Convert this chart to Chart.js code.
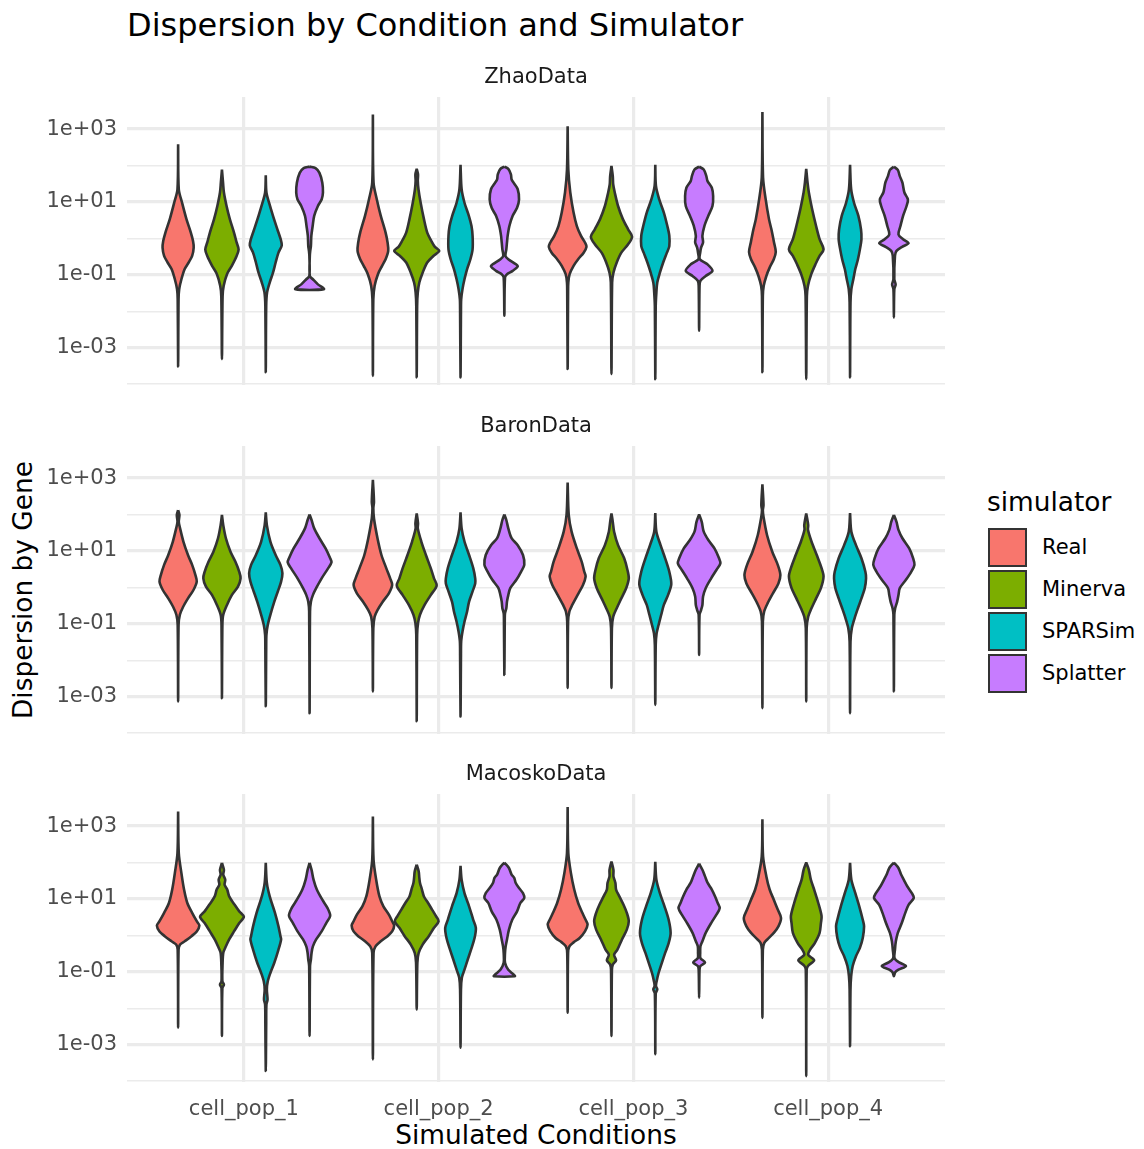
<!DOCTYPE html>
<html>
<head>
<meta charset="utf-8">
<script src="https://cdn.jsdelivr.net/npm/chart.js@4.4.1/dist/chart.umd.min.js"></script>
<style>
  html, body { margin:0; padding:0; background:#fff; }
  body { width:1144px; height:1149px; position:relative; overflow:hidden; font-family:"DejaVu Sans", sans-serif; }
  canvas { position:absolute; left:0; }
  .txt { position:absolute; white-space:nowrap; font-family:"DejaVu Sans", sans-serif; }
</style>
</head>
<body>
<div class="txt" id="title" style="left:127px; top:7px; font-size:32px; line-height:36px; color:#000;">Dispersion by Condition and Simulator</div>
<div class="txt" id="ytitle" style="left:23px; top:590px; font-size:26.4px; line-height:30px; color:#000; transform:translate(-50%,-50%) rotate(-90deg);">Dispersion by Gene</div>
<div class="txt" id="xtitle" style="left:536px; top:1135px; font-size:26.4px; line-height:30px; color:#000; transform:translate(-50%,-50%);">Simulated Conditions</div>
<div id="legend"></div>
<script>
// ---------------- data ----------------
const categories = ['cell_pop_1', 'cell_pop_2', 'cell_pop_3', 'cell_pop_4'];
const simulators = ['Real', 'Minerva', 'SPARSim', 'Splatter'];
const facets = ['ZhaoData', 'BaronData', 'MacoskoData'];
const yMajorExps = [-3, -1, 1, 3];
const yTickLabels = ['1e-03', '1e-01', '1e+01', '1e+03'];
const yMinorExps = [-4, -2, 0, 2];

// Each violin: [log10(dispersion), relative density width]; one profile per cell_pop
const zhaoReal = [
  [[2.58,0],[1.35,0.03],[0.98,0.18],[0.53,0.38],[0.16,0.58],[-0.07,0.68],[-0.25,0.71],[-0.48,0.64],[-0.66,0.48],[-0.84,0.30],[-1.12,0.15],[-1.39,0.05],[-1.67,0.02],[-3.51,0]],
  [[3.40,0],[1.53,0.03],[1.07,0.18],[0.62,0.36],[0.16,0.58],[-0.11,0.67],[-0.34,0.70],[-0.57,0.58],[-0.75,0.42],[-0.98,0.23],[-1.30,0.08],[-1.67,0.02],[-3.77,0]],
  [[3.08,0],[1.89,0.03],[1.26,0.12],[0.71,0.27],[0.34,0.42],[0.07,0.61],[-0.11,0.79],[-0.23,0.86],[-0.39,0.73],[-0.57,0.48],[-0.75,0.27],[-0.98,0.09],[-1.21,0.03],[-1.48,0.02],[-3.58,0]],
  [[3.47,0],[1.67,0.03],[1.07,0.15],[0.53,0.30],[0.25,0.41],[-0.11,0.53],[-0.37,0.61],[-0.57,0.52],[-0.80,0.33],[-1.03,0.18],[-1.30,0.06],[-1.58,0.02],[-3.67,0]]
];
const zhaoMinerva = [
  [[1.89,0],[1.53,0.05],[1.26,0.09],[0.89,0.21],[0.53,0.36],[0.16,0.55],[-0.11,0.67],[-0.30,0.76],[-0.48,0.67],[-0.75,0.45],[-0.98,0.23],[-1.30,0.08],[-1.58,0.03],[-3.31,0]],
  [[1.91,0],[1.76,0.06],[1.58,0.05],[1.35,0.08],[0.98,0.18],[0.53,0.33],[0.16,0.48],[-0.07,0.67],[-0.23,0.83],[-0.34,1.03],[-0.48,0.76],[-0.66,0.48],[-0.94,0.27],[-1.21,0.12],[-1.48,0.05],[-1.85,0.02],[-3.81,0]],
  [[1.99,0],[1.71,0.06],[1.48,0.08],[1.26,0.15],[0.89,0.30],[0.53,0.52],[0.25,0.76],[0.05,0.94],[-0.16,0.76],[-0.39,0.45],[-0.66,0.24],[-0.94,0.09],[-1.21,0.03],[-3.72,0]],
  [[1.91,0],[1.53,0.06],[1.26,0.12],[0.80,0.27],[0.34,0.45],[-0.02,0.61],[-0.30,0.79],[-0.48,0.61],[-0.71,0.42],[-0.98,0.23],[-1.30,0.08],[-1.58,0.03],[-3.86,0]]
];
const zhaoSPARSim = [
  [[1.73,0],[1.26,0.03],[0.98,0.15],[0.62,0.33],[0.25,0.53],[-0.02,0.68],[-0.19,0.73],[-0.39,0.58],[-0.66,0.45],[-0.94,0.33],[-1.21,0.18],[-1.48,0.06],[-1.85,0.02],[-3.67,0]],
  [[2.02,0],[1.35,0.05],[0.98,0.18],[0.62,0.38],[0.34,0.50],[0.07,0.55],[-0.30,0.55],[-0.57,0.45],[-0.84,0.30],[-1.12,0.18],[-1.39,0.09],[-1.67,0.03],[-2.03,0.02],[-3.81,0]],
  [[2.02,0],[1.44,0.03],[1.07,0.18],[0.71,0.39],[0.34,0.55],[0.07,0.64],[-0.21,0.64],[-0.39,0.53],[-0.66,0.36],[-0.94,0.21],[-1.21,0.09],[-1.48,0.05],[-1.85,0.02],[-3.86,0]],
  [[2.02,0],[1.35,0.05],[0.98,0.18],[0.62,0.38],[0.25,0.50],[-0.02,0.52],[-0.30,0.45],[-0.57,0.36],[-0.84,0.24],[-1.12,0.15],[-1.39,0.06],[-1.76,0.02],[-3.81,0]]
];
const zhaoSplatter = [
  [[1.97,0],[1.93,0.27],[1.80,0.45],[1.53,0.58],[1.26,0.61],[1.07,0.55],[0.89,0.38],[0.62,0.21],[0.34,0.14],[0.07,0.08],[-0.21,0.06],[-0.34,0.03],[-0.48,0.01],[-1.03,0.01],[-1.12,0.15],[-1.26,0.38],[-1.39,0.65]],
  [[1.97,0],[1.91,0.18],[1.76,0.30],[1.62,0.33],[1.53,0.42],[1.35,0.61],[1.07,0.67],[0.84,0.58],[0.62,0.38],[0.34,0.23],[0.07,0.15],[-0.11,0.12],[-0.30,0.09],[-0.48,0.05],[-0.57,0.18],[-0.71,0.53],[-0.77,0.61],[-0.89,0.38],[-0.98,0.12],[-1.07,0.03],[-2.12,0]],
  [[1.97,0],[1.89,0.21],[1.71,0.33],[1.58,0.38],[1.39,0.58],[1.16,0.64],[0.89,0.61],[0.62,0.42],[0.34,0.24],[0.07,0.15],[-0.11,0.18],[-0.25,0.09],[-0.39,0.05],[-0.57,0.03],[-0.71,0.38],[-0.89,0.61],[-1.03,0.30],[-1.16,0.06],[-1.30,0.02],[-2.53,0]],
  [[1.97,0],[1.88,0.18],[1.71,0.27],[1.53,0.39],[1.26,0.48],[1.07,0.64],[0.89,0.58],[0.62,0.42],[0.34,0.30],[0.11,0.21],[-0.02,0.42],[-0.13,0.67],[-0.23,0.38],[-0.34,0.12],[-0.48,0.05],[-1.12,0.02],[-1.26,0.08],[-1.39,0.02],[-2.17,0]]
];
const baronReal = [
  [[2.12,0],[1.99,0.06],[1.80,0.03],[1.62,0.09],[1.26,0.24],[0.89,0.45],[0.62,0.64],[0.34,0.79],[0.16,0.85],[-0.07,0.70],[-0.30,0.45],[-0.53,0.23],[-0.75,0.08],[-1.03,0.02],[-3.13,0]],
  [[2.95,0],[2.35,0.05],[2.17,0.02],[1.89,0.05],[1.35,0.21],[0.89,0.39],[0.53,0.61],[0.25,0.79],[0.07,0.88],[-0.16,0.73],[-0.39,0.45],[-0.62,0.21],[-0.80,0.08],[-1.12,0.02],[-2.85,0]],
  [[2.88,0],[1.99,0.05],[1.53,0.18],[1.07,0.42],[0.71,0.64],[0.43,0.76],[0.30,0.82],[0.07,0.70],[-0.21,0.45],[-0.48,0.21],[-0.66,0.08],[-0.94,0.02],[-2.76,0]],
  [[2.83,0],[2.26,0.05],[2.12,0.02],[1.94,0.05],[1.44,0.21],[0.98,0.45],[0.62,0.70],[0.34,0.82],[0.11,0.73],[-0.16,0.48],[-0.43,0.24],[-0.66,0.08],[-0.94,0.02],[-3.31,0]]
];
const baronMinerva = [
  [[1.99,0],[1.71,0.06],[1.35,0.18],[0.98,0.39],[0.71,0.61],[0.43,0.79],[0.25,0.85],[0.02,0.73],[-0.21,0.45],[-0.48,0.23],[-0.75,0.06],[-1.03,0.02],[-3.04,0]],
  [[2.03,0],[1.76,0.06],[1.62,0.05],[1.26,0.21],[0.89,0.42],[0.53,0.64],[0.25,0.79],[0.05,0.91],[-0.21,0.64],[-0.48,0.36],[-0.75,0.15],[-0.98,0.06],[-1.30,0.02],[-3.67,0]],
  [[2.03,0],[1.80,0.06],[1.53,0.12],[1.16,0.30],[0.80,0.58],[0.48,0.73],[0.25,0.79],[-0.02,0.67],[-0.30,0.45],[-0.57,0.24],[-0.80,0.08],[-1.12,0.02],[-2.76,0]],
  [[2.03,0],[1.71,0.09],[1.58,0.08],[1.26,0.24],[0.89,0.48],[0.53,0.70],[0.30,0.79],[-0.02,0.67],[-0.30,0.45],[-0.57,0.24],[-0.80,0.09],[-1.12,0.02],[-3.13,0]]
];
const baronSPARSim = [
  [[2.06,0],[1.71,0.05],[1.26,0.21],[0.89,0.45],[0.62,0.67],[0.39,0.76],[0.16,0.70],[-0.11,0.55],[-0.39,0.39],[-0.75,0.21],[-1.03,0.09],[-1.30,0.03],[-1.67,0.02],[-3.26,0]],
  [[2.06,0],[1.62,0.05],[1.26,0.18],[0.89,0.39],[0.53,0.58],[0.25,0.67],[0.11,0.67],[-0.11,0.55],[-0.39,0.39],[-0.66,0.30],[-0.94,0.18],[-1.21,0.09],[-1.48,0.03],[-1.85,0.02],[-3.54,0]],
  [[2.04,0],[1.53,0.05],[1.16,0.24],[0.80,0.45],[0.43,0.64],[0.09,0.73],[-0.21,0.58],[-0.48,0.39],[-0.75,0.27],[-1.03,0.15],[-1.26,0.06],[-1.58,0.02],[-3.22,0]],
  [[2.04,0],[1.53,0.06],[1.16,0.27],[0.80,0.52],[0.43,0.70],[0.25,0.73],[-0.02,0.67],[-0.30,0.52],[-0.57,0.36],[-0.84,0.21],[-1.12,0.08],[-1.48,0.02],[-3.45,0]]
];
const baronSplatter = [
  [[2.00,0],[1.85,0.09],[1.62,0.21],[1.35,0.45],[1.07,0.73],[0.80,0.94],[0.69,1.00],[0.53,0.85],[0.25,0.55],[-0.02,0.30],[-0.21,0.15],[-0.39,0.06],[-0.66,0.02],[-3.45,0]],
  [[2.00,0],[1.85,0.09],[1.62,0.18],[1.35,0.33],[1.16,0.61],[0.89,0.85],[0.62,0.91],[0.43,0.76],[0.21,0.55],[-0.02,0.27],[-0.21,0.18],[-0.39,0.12],[-0.57,0.09],[-0.71,0.03],[-0.84,0.02],[-2.40,0]],
  [[2.00,0],[1.80,0.12],[1.53,0.21],[1.30,0.42],[1.07,0.70],[0.80,0.91],[0.66,0.97],[0.48,0.79],[0.25,0.55],[-0.02,0.30],[-0.25,0.18],[-0.48,0.15],[-0.62,0.09],[-0.75,0.02],[-1.85,0]],
  [[1.99,0],[1.80,0.12],[1.58,0.21],[1.35,0.39],[1.07,0.70],[0.80,0.88],[0.62,0.94],[0.43,0.79],[0.21,0.55],[-0.02,0.27],[-0.21,0.21],[-0.39,0.15],[-0.57,0.06],[-0.75,0.02],[-2.85,0]]
];
const macoskoReal = [
  [[3.40,0],[2.26,0.03],[1.71,0.15],[1.26,0.27],[0.89,0.42],[0.62,0.64],[0.39,0.85],[0.27,0.97],[0.11,0.85],[-0.02,0.61],[-0.16,0.30],[-0.25,0.09],[-0.39,0.02],[-2.53,0]],
  [[3.26,0],[2.08,0.03],[1.53,0.15],[1.07,0.30],[0.80,0.48],[0.57,0.73],[0.39,0.88],[0.27,0.97],[0.11,0.88],[-0.02,0.67],[-0.16,0.36],[-0.30,0.12],[-0.48,0.03],[-3.40,0]],
  [[3.52,0],[2.26,0.03],[1.71,0.15],[1.26,0.30],[0.89,0.48],[0.62,0.67],[0.43,0.82],[0.30,0.91],[0.11,0.79],[-0.07,0.55],[-0.19,0.27],[-0.30,0.08],[-0.48,0.02],[-2.12,0]],
  [[3.19,0],[2.17,0.03],[1.62,0.18],[1.26,0.33],[0.98,0.52],[0.71,0.70],[0.48,0.85],[0.25,0.73],[0.07,0.52],[-0.10,0.24],[-0.21,0.08],[-0.39,0.02],[-2.26,0]]
];
const macoskoMinerva = [
  [[1.99,0],[1.80,0.09],[1.67,0.06],[1.53,0.15],[1.39,0.12],[1.26,0.24],[1.07,0.33],[0.84,0.58],[0.66,0.79],[0.51,1.00],[0.34,0.79],[0.11,0.55],[-0.11,0.33],[-0.34,0.15],[-0.48,0.06],[-0.75,0.03],[-1.26,0.02],[-1.35,0.09],[-1.44,0.02],[-2.76,0]],
  [[1.94,0],[1.76,0.09],[1.58,0.12],[1.44,0.15],[1.26,0.24],[1.07,0.33],[0.89,0.52],[0.71,0.70],[0.53,0.88],[0.39,1.00],[0.21,0.79],[-0.02,0.55],[-0.25,0.27],[-0.48,0.09],[-0.75,0.03],[-2.03,0]],
  [[2.03,0],[1.80,0.09],[1.62,0.09],[1.44,0.18],[1.26,0.21],[1.07,0.36],[0.84,0.55],[0.62,0.70],[0.39,0.79],[0.16,0.70],[-0.11,0.48],[-0.39,0.27],[-0.53,0.12],[-0.68,0.21],[-0.80,0.06],[-0.94,0.02],[-2.76,0]],
  [[2.00,0],[1.80,0.12],[1.53,0.21],[1.26,0.36],[0.89,0.55],[0.53,0.70],[0.34,0.67],[0.07,0.61],[-0.21,0.39],[-0.39,0.18],[-0.53,0.09],[-0.68,0.36],[-0.83,0.09],[-0.94,0.02],[-3.86,0]]
];
const macoskoSPARSim = [
  [[1.99,0],[1.44,0.05],[1.07,0.18],[0.62,0.42],[0.25,0.58],[-0.02,0.67],[-0.11,0.70],[-0.39,0.58],[-0.75,0.39],[-1.03,0.21],[-1.26,0.09],[-1.48,0.05],[-1.76,0.08],[-1.90,0.03],[-2.40,0.02],[-3.72,0]],
  [[1.91,0],[1.53,0.05],[1.16,0.18],[0.80,0.39],[0.43,0.58],[0.21,0.70],[-0.07,0.64],[-0.39,0.48],[-0.66,0.33],[-0.94,0.18],[-1.16,0.06],[-1.48,0.02],[-3.08,0]],
  [[2.02,0],[1.53,0.05],[1.16,0.21],[0.80,0.42],[0.43,0.61],[0.07,0.70],[-0.21,0.61],[-0.48,0.45],[-0.75,0.30],[-1.03,0.15],[-1.26,0.06],[-1.39,0.03],[-1.48,0.09],[-1.59,0.02],[-3.26,0]],
  [[1.99,0],[1.53,0.06],[1.16,0.24],[0.80,0.42],[0.43,0.58],[0.25,0.64],[-0.07,0.58],[-0.34,0.45],[-0.57,0.27],[-0.84,0.12],[-1.12,0.05],[-1.48,0.02],[-3.04,0]]
];
const macoskoSplatter = [
  [[1.99,0],[1.80,0.09],[1.53,0.18],[1.26,0.33],[0.98,0.58],[0.75,0.82],[0.54,0.94],[0.34,0.76],[0.11,0.55],[-0.11,0.30],[-0.30,0.15],[-0.48,0.09],[-0.66,0.06],[-0.84,0.02],[-2.76,0]],
  [[2.00,0],[1.85,0.21],[1.67,0.33],[1.58,0.45],[1.44,0.52],[1.30,0.67],[1.16,0.85],[1.03,0.91],[0.89,0.73],[0.66,0.58],[0.43,0.36],[0.16,0.21],[-0.11,0.12],[-0.30,0.06],[-0.48,0.03],[-0.75,0.03],[-0.94,0.18],[-1.07,0.42],[-1.12,0.48]],
  [[1.97,0],[1.80,0.15],[1.62,0.27],[1.44,0.39],[1.26,0.58],[1.07,0.73],[0.89,0.85],[0.75,0.94],[0.57,0.79],[0.34,0.55],[0.07,0.30],[-0.16,0.15],[-0.30,0.06],[-0.48,0.05],[-0.62,0.06],[-0.74,0.27],[-0.84,0.06],[-0.94,0.02],[-1.71,0]],
  [[2.00,0],[1.85,0.21],[1.67,0.33],[1.53,0.45],[1.35,0.61],[1.16,0.82],[1.03,0.91],[0.84,0.67],[0.62,0.52],[0.34,0.36],[0.07,0.18],[-0.16,0.09],[-0.39,0.05],[-0.62,0.03],[-0.74,0.24],[-0.84,0.55],[-0.94,0.21],[-1.01,0.06],[-1.12,0]]
];

const facetData = [
  [zhaoReal, zhaoMinerva, zhaoSPARSim, zhaoSplatter],
  [baronReal, baronMinerva, baronSPARSim, baronSplatter],
  [macoskoReal, macoskoMinerva, macoskoSPARSim, macoskoSplatter]
];

// ---------------- styling / layout ----------------
const colors = ['#F8766D', '#7CAE00', '#00BFC4', '#C77CFF'];
const DODGE = [-0.3375, -0.1125, 0.1125, 0.3375];
const HALF = 0.1125;
const FONT = '"DejaVu Sans", sans-serif';
const canvasTops = [47, 396, 744];
const canvasHeights = [338, 338, 405];

function violinPoints(profile, center) {
  const right = profile.map(([e, w]) => ({ x: center + w * HALF, y: Math.pow(10, e) }));
  const rev = profile.slice().reverse();
  if (rev[0][1] === 0) rev.shift();
  const left = rev.map(([e, w]) => ({ x: center - w * HALF, y: Math.pow(10, e) }));
  return right.concat(left);
}

function zeroPad(sc) {
  sc.paddingTop = 0; sc.paddingBottom = 0; sc.paddingLeft = 0; sc.paddingRight = 0;
}

const stripPlugin = {
  id: 'strip',
  afterDraw(chart, args, opts) {
    const { ctx, chartArea } = chart;
    ctx.save();
    ctx.font = '21px ' + FONT;
    ctx.fillStyle = '#1A1A1A';
    ctx.textAlign = 'center';
    ctx.textBaseline = 'middle';
    ctx.fillText(opts.text, (chartArea.left + chartArea.right) / 2, chartArea.top - 19);
    ctx.restore();
  }
};

facets.forEach((name, f) => {
  const cv = document.createElement('canvas');
  cv.width = 960; cv.height = canvasHeights[f];
  cv.style.top = canvasTops[f] + 'px';
  cv.style.width = '960px'; cv.style.height = canvasHeights[f] + 'px';
  document.body.appendChild(cv);
  const isBottom = f === facets.length - 1;

  const datasets = [];
  simulators.forEach((sim, s) => {
    facetData[f][s].forEach((profile, g) => {
      datasets.push({
        label: sim + ' ' + categories[g],
        data: violinPoints(profile, g + 1 + DODGE[s]),
        borderColor: '#333333',
        borderWidth: 2.6,
        backgroundColor: colors[s],
        fill: 'shape',
        tension: 0.3,
        pointRadius: 0,
        pointHoverRadius: 0,
        borderJoinStyle: 'round'
      });
    });
  });

  new Chart(cv, {
    type: 'line',
    data: { datasets },
    plugins: [stripPlugin],
    options: {
      responsive: false,
      animation: false,
      devicePixelRatio: 1,
      layout: { padding: { top: 50, left: 0, right: 15, bottom: 0 } },
      plugins: {
        legend: { display: false },
        tooltip: { enabled: false },
        strip: { text: name }
      },
      events: [],
      scales: {
        x: {
          type: 'linear',
          min: 0.4, max: 4.6,
          afterBuildTicks: sc => { sc.ticks = categories.map((c, i) => ({ value: i + 1 })); },
          afterFit: sc => { sc.height = isBottom ? 67 : 0; zeroPad(sc); },
          ticks: {
            display: isBottom,
            autoSkip: false, maxRotation: 0,
            padding: 15,
            color: '#4D4D4D',
            font: { family: FONT, size: 21 },
            callback: v => categories[Math.round(v) - 1]
          },
          grid: { color: '#EBEBEB', lineWidth: 3.2, drawTicks: false },
          border: { display: false }
        },
        y: {
          type: 'logarithmic',
          min: Math.pow(10, -4.02), max: Math.pow(10, 3.88),
          afterBuildTicks: sc => {
            const all = yMinorExps.concat(yMajorExps).sort((a, b) => a - b);
            sc.ticks = all.map(e => ({ value: Math.pow(10, e) }));
          },
          afterFit: sc => { sc.width = 127; zeroPad(sc); },
          ticks: {
            autoSkip: false,
            padding: 10,
            color: '#4D4D4D',
            font: { family: FONT, size: 21 },
            callback: v => {
              const e = Math.round(Math.log10(v));
              const i = yMajorExps.indexOf(e);
              return i >= 0 ? yTickLabels[i] : '';
            }
          },
          grid: {
            color: '#EBEBEB',
            drawTicks: false,
            lineWidth: c => (c.tick && yMajorExps.indexOf(Math.round(Math.log10(c.tick.value))) >= 0) ? 3.2 : 1.6
          },
          border: { display: false }
        }
      }
    }
  });
});

// ---------------- legend ----------------
const leg = document.getElementById('legend');
const lt = document.createElement('div');
lt.className = 'txt';
lt.style.cssText = 'left:987px; top:487px; font-size:26.4px; line-height:30px; color:#000;';
lt.textContent = 'simulator';
leg.appendChild(lt);
simulators.forEach((sim, i) => {
  const cy = 547 + 42 * i;
  const k = document.createElement('div');
  k.style.cssText = 'position:absolute; box-sizing:border-box; left:988px; width:39px; height:39px; top:' + (cy - 19.5) + 'px; background:' + colors[i] + '; border:2.6px solid #333;';
  leg.appendChild(k);
  const l = document.createElement('div');
  l.className = 'txt';
  l.style.cssText = 'left:1042px; top:' + (cy - 13) + 'px; font-size:21px; line-height:26px; color:#000;';
  l.textContent = sim;
  leg.appendChild(l);
});
</script>
</body>
</html>
